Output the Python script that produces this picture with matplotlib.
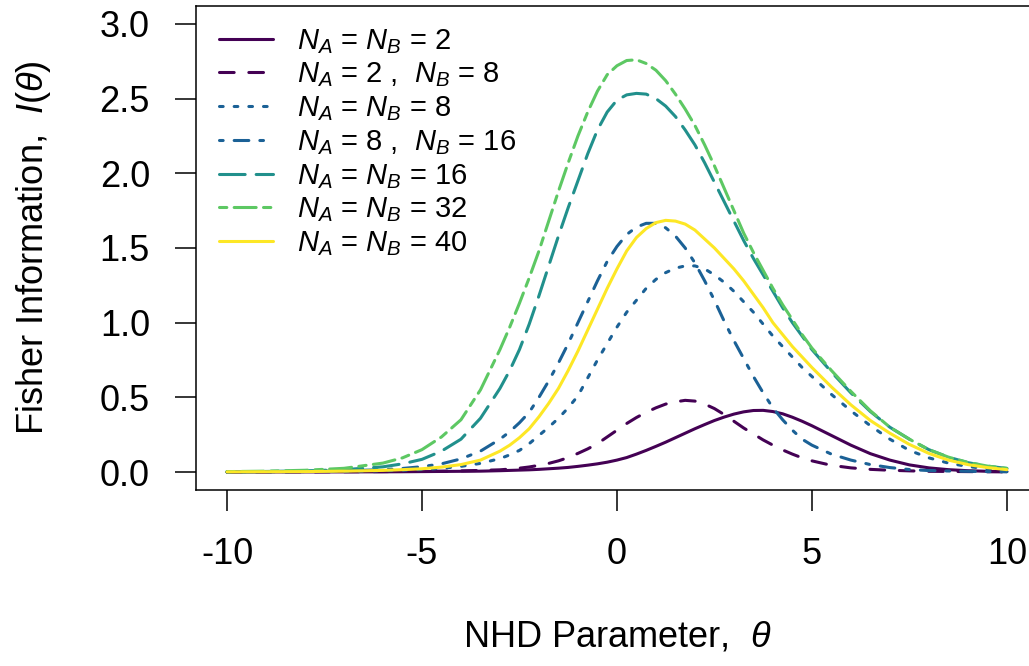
import matplotlib
matplotlib.use("Agg")
import matplotlib.pyplot as plt

plt.rcParams['font.family'] = ['Liberation Sans', 'DejaVu Sans']
plt.rcParams['mathtext.fontset'] = 'custom'
plt.rcParams['mathtext.rm'] = 'Liberation Sans'
plt.rcParams['mathtext.it'] = 'Liberation Sans:italic'
plt.rcParams['axes.unicode_minus'] = False

# theta grid
theta = [-10, -9, -8, -7, -6, -5.5, -5, -4.5, -4, -3.5,
         -3, -2.75, -2.5, -2.25, -2, -1.75, -1.5, -1.25, -1, -0.75, -0.5, -0.25,
         0, 0.25, 0.5, 0.75, 1, 1.25, 1.5, 1.75, 2, 2.25, 2.5, 2.75, 3, 3.25,
         3.5, 3.75, 4, 4.25, 4.5, 4.75, 5,
         5.5, 6, 6.5, 7, 7.5, 8, 8.5, 9, 9.5, 10]

fi_2_2 = [0.0, 0.0003, 0.0006, 0.001, 0.0015, 0.002, 0.003, 0.004, 0.005, 0.006,
          0.009, 0.011, 0.013, 0.015, 0.018, 0.022, 0.026, 0.031, 0.038, 0.046, 0.055, 0.066,
          0.08, 0.097, 0.12, 0.145, 0.172, 0.2, 0.23, 0.26, 0.29, 0.318, 0.345, 0.368, 0.388, 0.403,
          0.412, 0.413, 0.405, 0.39, 0.367, 0.34, 0.31,
          0.245, 0.18, 0.123, 0.08, 0.048, 0.028, 0.016, 0.009, 0.005, 0.003]
fi_2_8 = [0.0, 0.001, 0.001, 0.002, 0.003, 0.004, 0.005, 0.006, 0.008, 0.011,
          0.015, 0.02, 0.026, 0.034, 0.045, 0.058, 0.075, 0.097, 0.125, 0.155, 0.19, 0.235,
          0.28, 0.325, 0.365, 0.40, 0.43, 0.455, 0.47, 0.48, 0.475, 0.455, 0.425, 0.385, 0.34, 0.295,
          0.255, 0.215, 0.18, 0.148, 0.12, 0.095, 0.075,
          0.045, 0.028, 0.018, 0.012, 0.008, 0.005, 0.004, 0.003, 0.002, 0.001]
fi_8_8 = [0.001, 0.002, 0.003, 0.005, 0.009, 0.012, 0.017, 0.025, 0.038, 0.058,
          0.09, 0.115, 0.145, 0.19, 0.245, 0.30, 0.36, 0.43, 0.51, 0.63, 0.75, 0.86,
          0.97, 1.07, 1.15, 1.23, 1.29, 1.335, 1.365, 1.38, 1.38, 1.36, 1.32, 1.27, 1.21, 1.14,
          1.07, 0.99, 0.91, 0.84, 0.77, 0.70, 0.64,
          0.52, 0.41, 0.31, 0.22, 0.145, 0.095, 0.06, 0.037, 0.022, 0.013]
fi_8_16 = [0.001, 0.002, 0.004, 0.008, 0.016, 0.024, 0.036, 0.055, 0.088, 0.14,
           0.22, 0.27, 0.33, 0.40, 0.50, 0.61, 0.73, 0.86, 1.00, 1.14, 1.28, 1.41,
           1.51, 1.59, 1.64, 1.665, 1.665, 1.635, 1.58, 1.50, 1.40, 1.28, 1.15, 1.01, 0.88, 0.76,
           0.64, 0.53, 0.43, 0.35, 0.28, 0.22, 0.18,
           0.12, 0.08, 0.05, 0.03, 0.017, 0.01, 0.007, 0.005, 0.003, 0.002]
fi_16_16 = [0.002, 0.004, 0.008, 0.016, 0.035, 0.055, 0.085, 0.14, 0.22, 0.36,
            0.56, 0.68, 0.82, 0.99, 1.18, 1.38, 1.58, 1.77, 1.95, 2.13, 2.29, 2.41,
            2.49, 2.525, 2.535, 2.53, 2.50, 2.45, 2.38, 2.29, 2.19, 2.07, 1.94, 1.81, 1.68, 1.55,
            1.43, 1.32, 1.21, 1.10, 1.00, 0.91, 0.82,
            0.67, 0.53, 0.405, 0.30, 0.22, 0.15, 0.10, 0.063, 0.04, 0.024]
fi_32_32 = [0.003, 0.006, 0.012, 0.025, 0.06, 0.095, 0.15, 0.235, 0.35, 0.55,
            0.82, 0.97, 1.13, 1.30, 1.48, 1.68, 1.88, 2.07, 2.25, 2.41, 2.55, 2.66,
            2.72, 2.755, 2.76, 2.735, 2.69, 2.62, 2.53, 2.43, 2.32, 2.19, 2.05, 1.90, 1.75, 1.60,
            1.47, 1.35, 1.23, 1.12, 1.02, 0.92, 0.83,
            0.68, 0.54, 0.41, 0.30, 0.22, 0.15, 0.10, 0.065, 0.04, 0.025]
fi_40_40 = [0.001, 0.002, 0.003, 0.006, 0.011, 0.016, 0.022, 0.033, 0.05, 0.08,
            0.14, 0.18, 0.23, 0.29, 0.37, 0.46, 0.56, 0.68, 0.81, 0.95, 1.09, 1.23,
            1.36, 1.48, 1.57, 1.63, 1.67, 1.685, 1.68, 1.66, 1.62, 1.56, 1.50, 1.43, 1.36, 1.28,
            1.19, 1.10, 1.00, 0.92, 0.84, 0.77, 0.70,
            0.57, 0.45, 0.345, 0.26, 0.185, 0.125, 0.08, 0.05, 0.03, 0.016]

labels = [r'$N_A$ = $N_B$ = 2',
          r'$N_A$ = 2 ,  $N_B$ = 8',
          r'$N_A$ = $N_B$ = 8',
          r'$N_A$ = 8 ,  $N_B$ = 16',
          r'$N_A$ = $N_B$ = 16',
          r'$N_A$ = $N_B$ = 32',
          r'$N_A$ = $N_B$ = 40']
series = [fi_2_2, fi_2_8, fi_8_8, fi_8_16, fi_16_16, fi_32_32, fi_40_40]
colors = ['#440154', '#440154', '#1B6196', '#1B6196', '#21908C', '#5DC863', '#FDE725']
# R lty patterns (solid, dashed, dotted, dotdash, longdash, twodash, solid), scaled
dashes = [None, (4.8, 4.8), (1.2, 3.6), (1.2, 3.6, 4.8, 3.6), (8.4, 3.6),
          (2.4, 2.4, 7.2, 2.4), None]

fig = plt.figure(figsize=(10.29, 6.66), dpi=100)
ax = fig.add_axes([0.1903, 0.2643, 0.8185, 0.7267])

for y, lab, c, d in zip(series, labels, colors, dashes):
    line, = ax.plot(theta, y, color=c, lw=2.2, label=lab,
                    solid_capstyle='round', dash_capstyle='round',
                    solid_joinstyle='round')
    if d is not None:
        line.set_dashes(d)

ax.set_xlim(-10.8, 10.8)
ax.set_ylim(-0.12, 3.12)
ax.set_xticks([-10, -5, 0, 5, 10])
ax.set_yticks([0.0, 0.5, 1.0, 1.5, 2.0, 2.5, 3.0])
ax.set_yticklabels(['0.0', '0.5', '1.0', '1.5', '2.0', '2.5', '3.0'])
ax.tick_params(axis='both', length=15, width=1.1, labelsize=26, color='black')
ax.tick_params(axis='y', pad=18)
ax.tick_params(axis='x', pad=19)
for s in ax.spines.values():
    s.set_linewidth(1.1)

ax.set_xlabel(r'NHD Parameter,  $\theta$', fontsize=26, va='center')
ax.xaxis.set_label_coords(0.5, -0.304)
ax.set_ylabel(r'Fisher Information,  $I(\theta)$', fontsize=26, va='center')
ax.yaxis.set_label_coords(-0.193, 0.5)

ax.legend(loc='upper left', bbox_to_anchor=(0.0275, 0.957), frameon=False,
          fontsize=21, handlelength=1.85, handletextpad=0.82, labelspacing=0.17,
          borderpad=0, borderaxespad=0)

fig.savefig('out.png', dpi=100)
